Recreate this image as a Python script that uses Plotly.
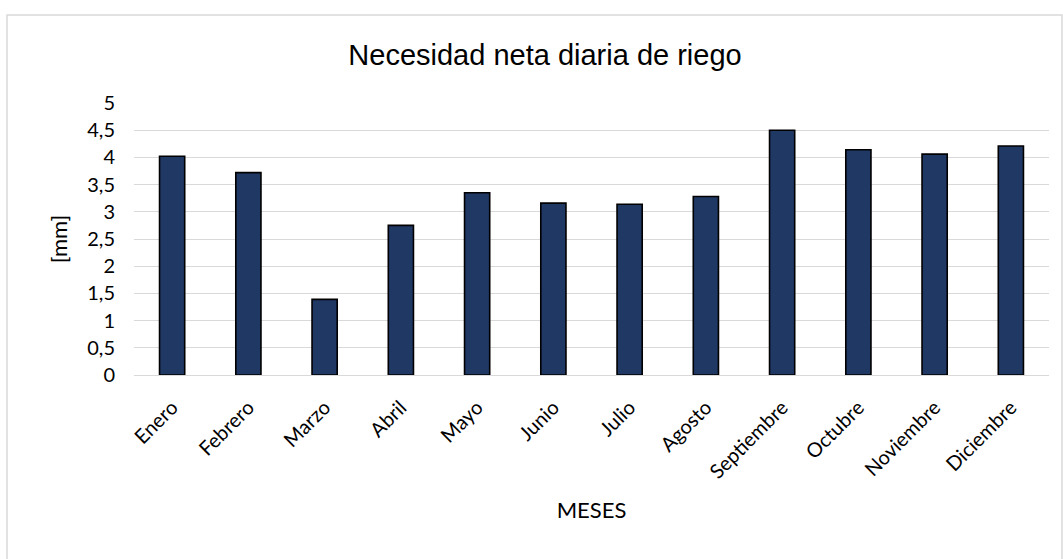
import plotly.graph_objects as go

# Monthly net daily irrigation requirement
meses = ["Enero", "Febrero", "Marzo", "Abril", "Mayo", "Junio", "Julio",
         "Agosto", "Septiembre", "Octubre", "Noviembre", "Diciembre"]
necesidad_mm = [4.02, 3.72, 1.39, 2.75, 3.35, 3.16, 3.14, 3.28, 4.50, 4.14, 4.06, 4.21]
y_ticks = [0, 0.5, 1, 1.5, 2, 2.5, 3, 3.5, 4, 4.5, 5]

W, H = 1063, 559
L, R, T, B = 134, 14, 103, 184

fig = go.Figure(
    go.Bar(
        x=meses,
        y=necesidad_mm,
        marker=dict(color="#203864", line=dict(color="#000000", width=1.6)),
        hoverinfo="x+y",
    )
)

# chart frame drawn in paper coordinates
pw, ph = W - L - R, H - T - B
fx0, fx1 = (7 - L) / pw, (1062 - L) / pw
fy1 = (H - B - 15) / ph
fy0 = (H - B - 575) / ph
fig.add_shape(type="rect", xref="paper", yref="paper",
              x0=fx0, x1=fx1, y0=fy0, y1=fy1,
              line=dict(color="#d9d9d9", width=1.5), fillcolor="rgba(0,0,0,0)",
              layer="below")

fig.update_layout(
    width=W, height=H,
    margin=dict(l=L, r=R, t=T, b=B),
    paper_bgcolor="white", plot_bgcolor="white",
    separators=",.",
    bargap=0.67,
    showlegend=False,
    title=dict(
        text="Necesidad neta diaria de riego",
        font=dict(family="Liberation Sans, Arial", size=29, color="#000000"),
        x=545 / W, xref="container", xanchor="center",
        y=1 - 55 / H, yref="container", yanchor="middle",
    ),
    font=dict(family="Lato, Calibri, sans-serif", color="#000000"),
)

fig.update_xaxes(
    tickangle=-45,
    tickfont=dict(size=20, family="Lato, Calibri, sans-serif", color="#000000"),
    showgrid=False,
    showline=False,
    ticks="",
    ticklabelstandoff=16,
    title=dict(text="MESES", font=dict(size=22, color="#000000"), standoff=20),
)

fig.update_yaxes(
    range=[0, 5],
    tickvals=y_ticks,
    tickfont=dict(size=20, family="Lato, Calibri, sans-serif", color="#000000"),
    showgrid=True, gridcolor="#d9d9d9", gridwidth=1.3,
    zeroline=True, zerolinecolor="#d9d9d9", zerolinewidth=1.3,
    showline=False,
    ticks="",
    ticklabelstandoff=18,
    title=dict(text="[mm]", font=dict(size=22, color="#000000"), standoff=13),
)

fig.write_html("out.html")
